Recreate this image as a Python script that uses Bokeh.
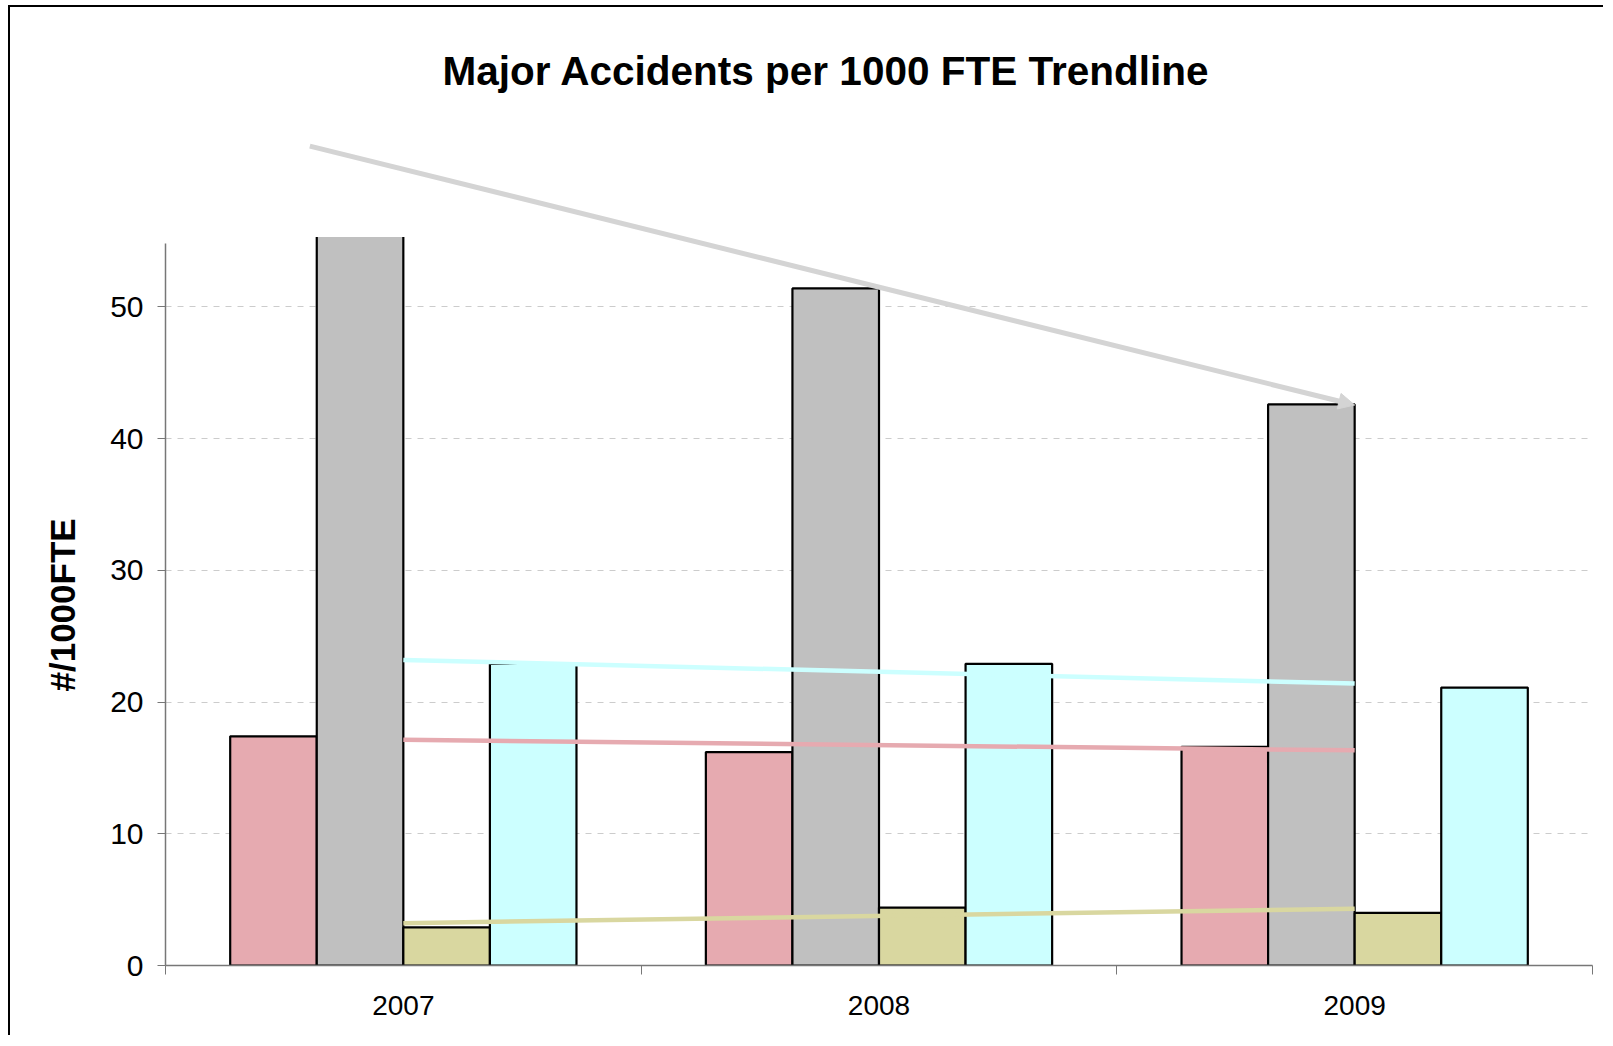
import numpy as np
from bokeh.plotting import figure
from bokeh.models import FixedTicker, Arrow, NormalHead, BoxAnnotation, Range1d, Title
from bokeh.embed import file_html
from bokeh.resources import INLINE

# ---- data ----
years = ["2007", "2008", "2009"]
pink_vals = [17.4, 16.2, 16.6]
grey_vals = [60.5, 51.4, 42.6]
olive_vals = [2.9, 4.4, 4.0]
cyan_vals = [22.9, 22.9, 21.1]
y_ticks = [0, 10, 20, 30, 40, 50]
title_text = "Major Accidents per 1000 FTE Trendline"
y_label = "#/1000FTE"

bar_colors = ["#E6AAB0", "#C0C0C0", "#D9D7A0", "#CCFFFF"]
trend_colors = ["#E6AAB0", "#D4D4D4", "#D9D7A0", "#CCFFFF"]
series = [pink_vals, grey_vals, olive_vals, cyan_vals]

FONT = "Liberation Sans"
bar_w = 0.182
y_visible_max = 55.3
y_axis_top = 54.8

p = figure(width=1595, height=1030, output_backend="svg", toolbar_location=None,
           x_range=Range1d(0, len(years)), y_range=Range1d(0, 64),
           min_border_left=155, min_border_right=13, min_border_top=115,
           min_border_bottom=72,
           styles={"border-left": "2px solid black", "border-top": "2px solid black",
                   "margin-left": "8px", "margin-top": "5px"})
p.outline_line_color = None
p.background_fill_color = "white"
p.border_fill_color = "white"

xc = np.arange(len(years)) + 0.5

# bars
for i, (vals, col) in enumerate(zip(series, bar_colors)):
    p.vbar(x=xc + (i - 1.5) * bar_w, top=vals, width=bar_w, bottom=0,
           fill_color=col, line_color="black", line_width=2.2)

# cover the clipped part above the visible value range
p.add_layout(BoxAnnotation(bottom=y_visible_max, fill_color="white", fill_alpha=1.0,
                           line_color=None))

# trend lines (linear fits)
for i, (vals, col) in enumerate(zip(series, trend_colors)):
    k, b = np.polyfit(xc, vals, 1)
    if i == 1:
        x0 = xc[0] - 1.08 * bar_w
        x1 = xc[-1]
        p.add_layout(Arrow(x_start=x0, y_start=k * x0 + b, x_end=x1, y_end=k * x1 + b,
                           line_color=col, line_width=5,
                           end=NormalHead(size=16, fill_color=col, line_color=col)))
    else:
        p.line(x=[xc[0], xc[-1]], y=[k * xc[0] + b, k * xc[-1] + b],
               line_color=col, line_width=4.5)

# grid
p.xgrid.visible = False
p.ygrid.ticker = FixedTicker(ticks=y_ticks[1:])
p.ygrid.grid_line_color = "#CCCCCC"
p.ygrid.grid_line_dash = "6 6"
p.ygrid.grid_line_width = 1

# y axis
p.yaxis.ticker = FixedTicker(ticks=y_ticks)
p.yaxis.bounds = (0, y_axis_top)
p.yaxis.axis_line_color = "#777777"
p.yaxis.axis_line_width = 1.5
p.yaxis.major_tick_line_color = "#777777"
p.yaxis.major_tick_out = 8
p.yaxis.major_tick_in = 0
p.yaxis.minor_tick_line_color = None
p.yaxis.major_label_standoff = 14
p.yaxis.major_label_text_font = FONT
p.yaxis.major_label_text_font_size = "30px"
p.yaxis.major_label_text_color = "black"

# y axis title, placed alongside the axis line
p.add_layout(Title(text=y_label, align="left", offset=274, standoff=51,
                   text_font=FONT, text_font_size="35px", text_font_style="bold",
                   text_color="black"), "left")

# x axis: labels at category centres, tick marks at category boundaries
p.xaxis.ticker = FixedTicker(ticks=list(xc), minor_ticks=list(range(len(years) + 1)))
p.xaxis.major_label_overrides = {float(x): y for x, y in zip(xc, years)}
p.xaxis.axis_line_color = "#777777"
p.xaxis.axis_line_width = 1.5
p.xaxis.major_tick_line_color = None
p.xaxis.major_tick_out = 8
p.xaxis.major_tick_in = 0
p.xaxis.minor_tick_line_color = "#777777"
p.xaxis.minor_tick_out = 9
p.xaxis.minor_tick_in = 0
p.xaxis.major_label_standoff = 21
p.xaxis.major_label_text_font = FONT
p.xaxis.major_label_text_font_size = "28px"
p.xaxis.major_label_text_color = "black"

# title
p.title.text = title_text
p.title.text_font = FONT
p.title.text_font_size = "40.5px"
p.title.text_font_style = "bold"
p.title.text_color = "black"
p.title.align = "left"
p.title.offset = 277
p.title.standoff = 58

open("out.html", "w").write(file_html(p, INLINE))
